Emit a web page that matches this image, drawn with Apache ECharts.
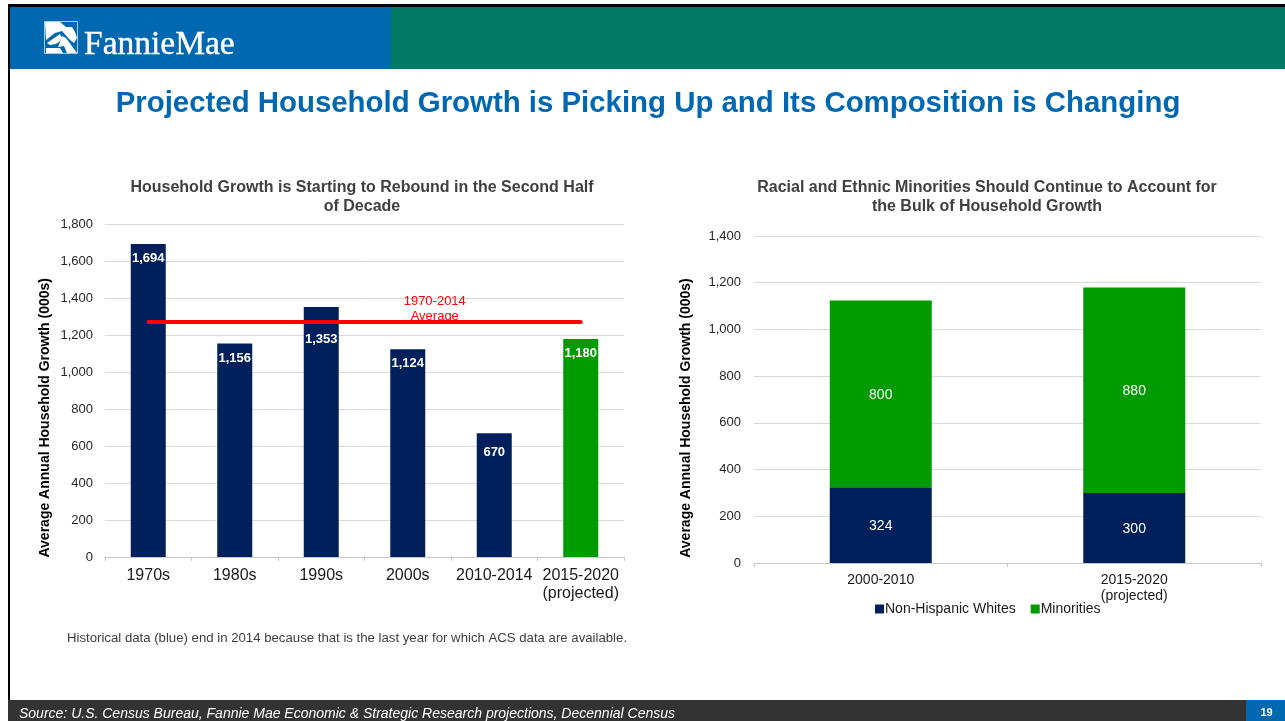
<!DOCTYPE html>
<html>
<head>
<meta charset="utf-8">
<title>Projected Household Growth</title>
<style>
html,body{margin:0;padding:0;background:#fff;}
#main{width:1285px;height:721px;}
</style>
<script src="https://cdn.jsdelivr.net/npm/echarts@6/dist/echarts.min.js"></script>
</head>
<body>
<div id="main"></div>
<script>
// Left panel: average annual household growth by period
const decades = ['1970s', '1980s', '1990s', '2000s', '2010-2014', '2015-2020\n(projected)'];
const decadeGrowth = [1694, 1156, 1353, 1124, 670, 1180];
const averageGrowth = [1272, 1272, 1272, 1272, 1272, 1272];
const projectedIndex = 5;

// Right panel: composition of household growth
const periods = ['2000-2010', '2015-2020\n(projected)'];
const whites = [324, 300];
const minorities = [800, 880];

const NAVY = '#00205c';
const GREEN = '#009b00';
const FONT = '"Liberation Sans", Arial, sans-serif';
const GRID_LINE = '#d9d9d9';

// Labels that sit lower than the default so they clear the average line or bar edge
const labelDrop = {2: 18, 4: 5};

const chart = echarts.init(document.getElementById('main'), null, {renderer: 'canvas'});

const valueAxis = (gridIndex, max, margin, nameGap, namePadding) => ({
  type: 'value', gridIndex, min: 0, max, interval: 200,
  name: 'Average Annual Household Growth (000s)', nameLocation: 'middle', nameGap,
  nameTextStyle: {fontFamily: FONT, fontSize: 14, fontWeight: 'bold', color: '#000', padding: [0, namePadding, 0, 0]},
  axisLine: {show: false}, axisTick: {show: false},
  axisLabel: {fontFamily: FONT, fontSize: 13, color: '#262626', margin,
    formatter: v => v.toLocaleString('en-US')},
  splitLine: {lineStyle: {color: GRID_LINE, width: 1}}
});

const categoryAxis = (gridIndex, data, fontSize, lineHeight, margin) => ({
  type: 'category', gridIndex, data,
  axisLine: {lineStyle: {color: '#c8c8c8', width: 1}},
  axisTick: {show: true, length: 4, lineStyle: {color: '#c8c8c8'}},
  axisLabel: {fontFamily: FONT, fontSize, lineHeight, color: '#1a1a1a', margin, interval: 0}
});

const panelTitle = (text, left) => ({
  text, left, top: 173, textAlign: 'center',
  textStyle: {fontFamily: FONT, fontSize: 16, fontWeight: 'bold', color: '#404040', lineHeight: 19, align: 'center'}
});

chart.setOption({
  animation: false,
  backgroundColor: '#fff',
  title: [
    panelTitle('Household Growth is Starting to Rebound in the Second Half\nof Decade', 357),
    panelTitle('Racial and Ethnic Minorities Should Continue to Account for\nthe Bulk of Household Growth', 982)
  ],
  grid: [
    {left: 105, top: 224.5, width: 519, height: 332.5},
    {left: 754, top: 236, width: 507, height: 327}
  ],
  xAxis: [
    categoryAxis(0, decades, 16, 18, 10),
    categoryAxis(1, periods, 14, 16, 9)
  ],
  yAxis: [
    valueAxis(0, 1800, 12, 53, 54),
    valueAxis(1, 1400, 13, 61, 37)
  ],
  legend: {
    left: 870, top: 597, itemWidth: 9, itemHeight: 9, itemGap: 15,
    icon: 'rect', selectedMode: false,
    textStyle: {fontFamily: FONT, fontSize: 14, color: '#1a1a1a', padding: [0, 0, 0, -4]},
    data: ['Non-Hispanic Whites', 'Minorities']
  },
  series: [
    {
      name: 'Household growth', type: 'bar', xAxisIndex: 0, yAxisIndex: 0, barWidth: 35,
      data: decadeGrowth.map((value, i) => ({
        value,
        itemStyle: {color: i === projectedIndex ? GREEN : NAVY},
        label: {offset: [0, labelDrop[i] || 0]}
      })),
      label: {show: true, position: 'insideTop', distance: 8, fontFamily: FONT, fontSize: 13,
        fontWeight: 'bold', color: '#fff', formatter: p => p.value.toLocaleString('en-US')}
    },
    {
      name: '1970-2014 Average', type: 'line', xAxisIndex: 0, yAxisIndex: 0,
      data: averageGrowth, symbol: 'circle', symbolSize: 1, showSymbol: true, z: 5,
      itemStyle: {color: '#ff0000'},
      lineStyle: {color: '#ff0000', width: 4, cap: 'round'},
      label: {
        show: true, position: 'top', distance: 0, offset: [27, 2], fontFamily: FONT, fontSize: 13,
        lineHeight: 15, color: '#ff0000',
        formatter: p => (p.dataIndex === 3 ? '1970-2014\nAverage' : '')
      }
    },
    {
      name: 'Non-Hispanic Whites', type: 'bar', stack: 'growth', xAxisIndex: 1, yAxisIndex: 1,
      barWidth: 102, data: whites, itemStyle: {color: NAVY},
      label: {show: true, position: 'inside', offset: [0, 1], fontFamily: FONT, fontSize: 14, color: '#fff'}
    },
    {
      name: 'Minorities', type: 'bar', stack: 'growth', xAxisIndex: 1, yAxisIndex: 1,
      barWidth: 102, data: minorities, itemStyle: {color: GREEN},
      label: {show: true, position: 'inside', offset: [0, 1], fontFamily: FONT, fontSize: 14, color: '#fff'}
    }
  ],
  graphic: [
    // Slide frame and header bands
    {type: 'rect', z: 100, shape: {x: 8, y: 4, width: 1277, height: 3}, style: {fill: '#000'}},
    {type: 'rect', z: 100, shape: {x: 8, y: 4, width: 2, height: 717}, style: {fill: '#000'}},
    {type: 'rect', z: 100, shape: {x: 10, y: 7, width: 381, height: 62}, style: {fill: '#0067b1'}},
    {type: 'rect', z: 100, shape: {x: 391, y: 7, width: 894, height: 62}, style: {fill: '#007a65'}},

    // Logo: house emblem in a thin frame, then the wordmark
    {type: 'rect', z: 101, shape: {x: 44.5, y: 21.5, width: 33, height: 32}, style: {fill: 'none', stroke: '#a9cde8', lineWidth: 1}},
    {type: 'polygon', z: 101, shape: {points: [[45,22],[60,22],[66,27],[72,27],[75,32],[77,38],[74,43],[70,40],[62,31],[55,33],[46,40]]}, style: {fill: '#fff'}},
    {type: 'polygon', z: 101, shape: {points: [[47,43],[60,34],[62,38],[59,42],[56,44],[50,45]]}, style: {fill: '#fff'}},
    {type: 'polygon', z: 101, shape: {points: [[62,36],[66,38],[77,53],[67,53],[64,46],[58,47],[60,42]]}, style: {fill: '#fff'}},
    {type: 'polygon', z: 101, shape: {points: [[46,48],[60,48],[63,53],[46,53]]}, style: {fill: '#fff'}},
    {type: 'text', z: 101, x: 84, y: 28, style: {text: 'FannieMae', fill: '#fff', stroke: '#fff', lineWidth: 0.4, font: '33.5px "Liberation Serif", serif'}},

    // Slide heading
    {type: 'text', z: 101, x: 648, y: 89, style: {text: 'Projected Household Growth is Picking Up and Its Composition is Changing',
      fill: '#0067b1', font: 'bold 29.4px ' + FONT, textAlign: 'center'}},

    // Note below the left panel
    {type: 'text', z: 101, x: 67, y: 632, style: {text: 'Historical data (blue) end in 2014 because that is the last year for which ACS data are available.',
      fill: '#404040', font: '13.2px ' + FONT}},

    // Footer band
    {type: 'rect', z: 100, shape: {x: 8, y: 700, width: 1277, height: 21}, style: {fill: '#333333'}},
    {type: 'text', z: 101, x: 19, y: 707, style: {text: 'Source: U.S. Census Bureau, Fannie Mae Economic & Strategic Research projections, Decennial Census',
      fill: '#fff', font: 'italic 14px ' + FONT}},
    {type: 'rect', z: 101, shape: {x: 1246, y: 700, width: 39, height: 21}, style: {fill: '#0067b1'}},
    {type: 'text', z: 102, x: 1266.5, y: 707, style: {text: '19', fill: '#fff', font: 'bold 11px ' + FONT, textAlign: 'center'}}
  ]
});
</script>
</body>
</html>
